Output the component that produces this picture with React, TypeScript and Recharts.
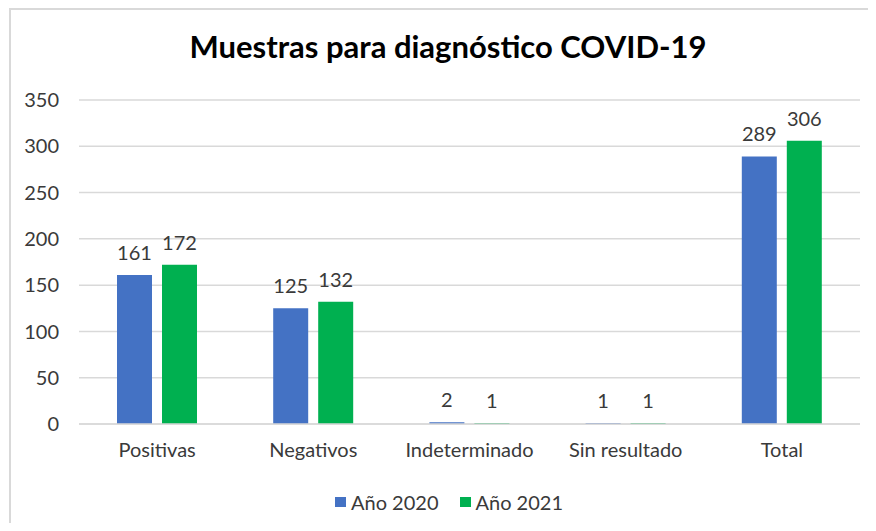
import React from "react";
import { BarChart, Bar, XAxis, YAxis, CartesianGrid, Legend, LabelList } from "recharts";

const categories = ["Positivas", "Negativos", "Indeterminado", "Sin resultado", "Total"];
const year2020 = [161, 125, 2, 1, 289];
const year2021 = [172, 132, 1, 1, 306];
const yTicks = [0, 50, 100, 150, 200, 250, 300, 350];

const data = categories.map((c, i) => ({ name: c, a2020: year2020[i], a2021: year2021[i] }));

const FONT = "Lato, 'Open Sans', sans-serif";
const TEXT = "#3a3a3a";

const renderLegend = (props: any) => {
  const { payload } = props;
  return (
    <div style={{ display: "flex", justifyContent: "center", alignItems: "center", paddingLeft: 38, fontFamily: FONT, fontSize: 20, color: TEXT }}>
      {payload.map((p: any, i: number) => (
        <div key={i} style={{ display: "flex", alignItems: "center", marginRight: i === 0 ? 21 : 0 }}>
          <span style={{ display: "inline-block", width: 11, height: 10, background: p.color, marginRight: 5 }} />
          <span>{p.value}</span>
        </div>
      ))}
    </div>
  );
};

export default function App() {
  return (
    <div style={{ position: "relative", width: 876, height: 531, margin: -8, background: "#fff", overflow: "hidden" }}>
      <div style={{ position: "absolute", left: 9, top: 8, width: 880, height: 540, border: "2px solid #d9d9d9", boxSizing: "border-box" }} />
      <div style={{ position: "absolute", left: 0, top: 27, width: 896, textAlign: "center", fontFamily: FONT, fontWeight: 700, fontSize: 31, color: "#000" }}>
        Muestras para diagnóstico COVID-19
      </div>
      <div style={{ position: "absolute", left: 0, top: 0 }}>
        <BarChart width={876} height={531} data={data} margin={{ top: 100, right: 16, bottom: 10, left: 0 }} barSize={35} barGap={10}>
          <CartesianGrid vertical={false} stroke="#d9d9d9" strokeWidth={1.5} />
          <XAxis
            dataKey="name"
            tickLine={false}
            axisLine={{ stroke: "#d9d9d9", strokeWidth: 1.5 }}
            tickSize={0}
            tickMargin={19}
            height={66}
            tick={{ fontFamily: FONT, fontSize: 20, fill: TEXT }}
            interval={0}
          />
          <YAxis
            width={79}
            domain={[0, 350]}
            ticks={yTicks}
            tickLine={false}
            axisLine={false}
            tickSize={0}
            tickMargin={20}
            tick={{ fontFamily: FONT, fontSize: 20, fill: TEXT }}
          />
          <Legend verticalAlign="bottom" height={31} content={renderLegend} />
          <Bar dataKey="a2020" name="Año 2020" fill="#4472C4" isAnimationActive={false}>
            <LabelList dataKey="a2020" position="top" offset={15} style={{ fontFamily: FONT, fontSize: 20, fill: TEXT }} />
          </Bar>
          <Bar dataKey="a2021" name="Año 2021" fill="#00B050" isAnimationActive={false}>
            <LabelList dataKey="a2021" position="top" offset={15} style={{ fontFamily: FONT, fontSize: 20, fill: TEXT }} />
          </Bar>
        </BarChart>
      </div>
    </div>
  );
}
